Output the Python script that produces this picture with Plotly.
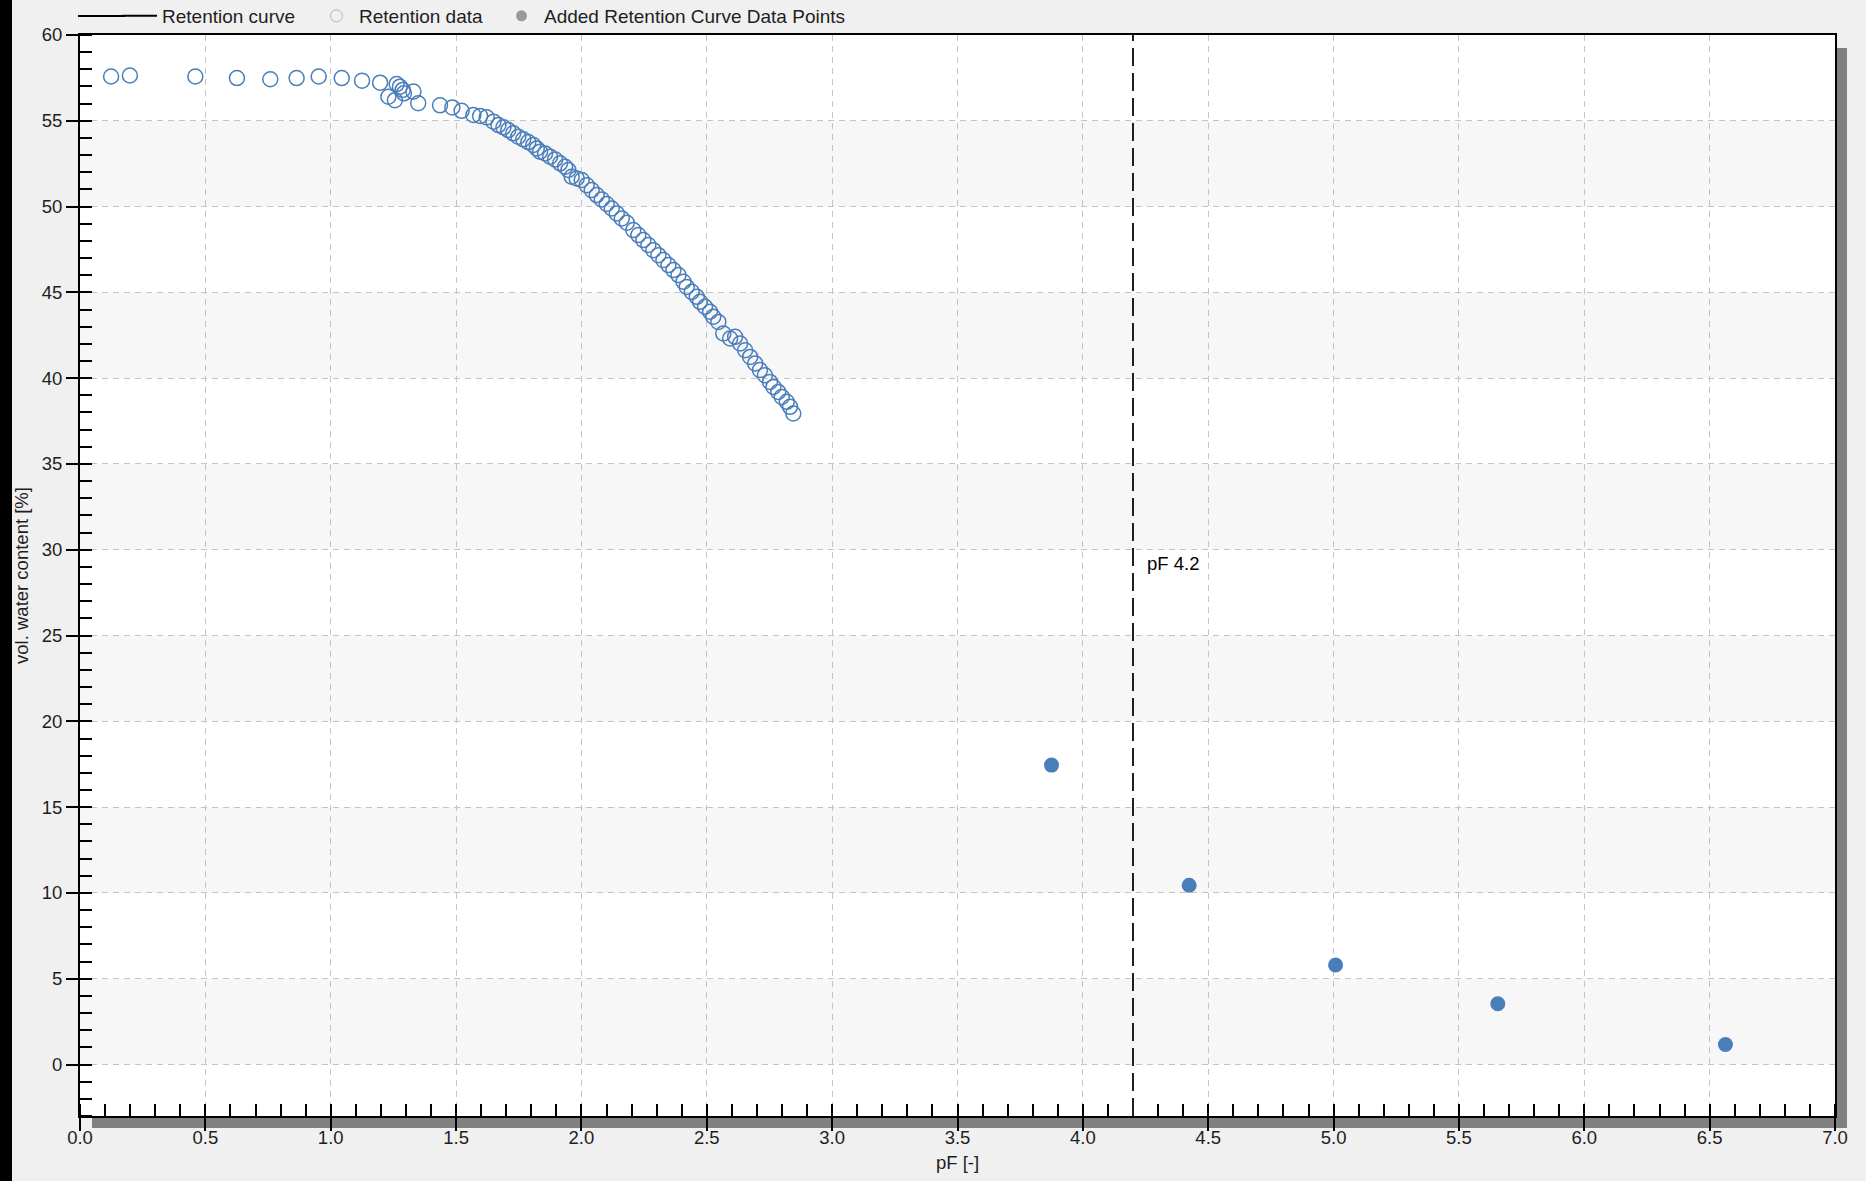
import plotly.graph_objects as go

# ---------------- data ----------------
# Measured retention data (open circles): pF [-] and vol. water content [%]
RET_PF = [0.124, 0.199, 0.460, 0.626, 0.759, 0.864, 0.952, 1.044, 1.125, 1.197,
          1.230, 1.256, 1.263, 1.276, 1.287, 1.292, 1.330, 1.349, 1.436, 1.485,
          1.522, 1.569, 1.596, 1.622, 1.649, 1.669, 1.689, 1.708, 1.728, 1.748,
          1.768, 1.788, 1.808, 1.822, 1.835, 1.855, 1.875, 1.895, 1.915, 1.935,
          1.948, 1.961, 1.981, 2.001, 2.021, 2.041, 2.061, 2.081, 2.101, 2.121,
          2.141, 2.161, 2.181, 2.207, 2.227, 2.247, 2.267, 2.287, 2.307, 2.327,
          2.347, 2.367, 2.387, 2.407, 2.420, 2.440, 2.460, 2.473, 2.493, 2.513,
          2.526, 2.546, 2.566, 2.593, 2.613, 2.633, 2.653, 2.673, 2.693, 2.712,
          2.732, 2.752, 2.766, 2.785, 2.799, 2.819, 2.832, 2.845]
RET_THETA = [57.58, 57.64, 57.58, 57.49, 57.42, 57.49, 57.58, 57.49, 57.34, 57.22,
             56.40, 56.20, 57.14, 56.99, 56.80, 56.60, 56.70, 56.02, 55.90, 55.78,
             55.58, 55.34, 55.28, 55.20, 54.95, 54.75, 54.62, 54.46, 54.27, 54.07,
             53.92, 53.76, 53.59, 53.39, 53.20, 53.10, 52.91, 52.75, 52.52, 52.32,
             52.13, 51.74, 51.64, 51.55, 51.25, 50.96, 50.67, 50.42, 50.15, 49.89,
             49.60, 49.31, 49.06, 48.63, 48.34, 48.05, 47.76, 47.46, 47.17, 46.88,
             46.59, 46.30, 46.01, 45.62, 45.32, 45.03, 44.74, 44.45, 44.16, 43.87,
             43.58, 43.28, 42.61, 42.31, 42.41, 42.02, 41.63, 41.24, 40.86, 40.47,
             40.17, 39.78, 39.49, 39.20, 38.91, 38.62, 38.33, 37.94]

# Added retention curve data points (filled circles)
ADDED_PF = [3.875, 4.424, 5.008, 5.655, 6.563]
ADDED_THETA = [17.45, 10.45, 5.80, 3.54, 1.17]

# Retention curve (no points shown in the chart)
CURVE_PF = [None]
CURVE_THETA = [None]

PF_MARK = 4.2
PF_MARK_LABEL = "pF 4.2"
PF_MARK_LABEL_Y = 29.2

X_RANGE = [0, 7]
Y_RANGE = [-3, 60]
X_TICK_STEP = 0.5
Y_TICK_STEP = 5
SHADED_BANDS = [(0, 5), (10, 15), (20, 25), (30, 35), (40, 45), (50, 55)]

SERIES_NAMES = ["Retention curve", "Retention data", "Added Retention Curve Data Points"]
X_TITLE = "pF [-]"
Y_TITLE = "vol. water content [%]"

# ---------------- style ----------------
BLUE = "#4a7ebb"
LEGEND_GRAY = "#999999"
FONT = "Liberation Sans, Arial, sans-serif"
TXT = "#1e1e1e"
FS = 18.5
W, H = 1866, 1181
ML, MR, MT, MB = 80, 31, 35, 65
PW, PH = W - ML - MR, H - MT - MB


def px_x(p):
    return (p - ML) / PW


def px_y(p):
    return (H - MB - p) / PH


fig = go.Figure()

# data traces (legend handled by dedicated legend entries)
fig.add_trace(go.Scatter(
    x=RET_PF, y=RET_THETA, mode="markers", showlegend=False, hoverinfo="x+y",
    marker=dict(symbol="circle-open", size=15, color=BLUE, line=dict(width=1.5, color=BLUE)),
))
fig.add_trace(go.Scatter(
    x=ADDED_PF, y=ADDED_THETA, mode="markers", showlegend=False, hoverinfo="x+y",
    marker=dict(symbol="circle", size=15, color=BLUE),
))

# legend entries
fig.add_trace(go.Scatter(
    x=CURVE_PF, y=CURVE_THETA, mode="lines", name=SERIES_NAMES[0], legendwidth=147,
    line=dict(color="black", width=2),
))
fig.add_trace(go.Scatter(
    x=[None], y=[None], mode="markers", name=SERIES_NAMES[1], legendwidth=135,
    marker=dict(symbol="circle-open", size=12, color="#b4b4b4", line=dict(width=1, color="#b4b4b4")),
))
fig.add_trace(go.Scatter(
    x=[None], y=[None], mode="markers", name=SERIES_NAMES[2],
    marker=dict(symbol="circle", size=11, color=LEGEND_GRAY),
))

shapes = []
# alternating light bands
for lo, hi in SHADED_BANDS:
    shapes.append(dict(type="rect", xref="paper", yref="y", x0=0, x1=1, y0=lo, y1=hi,
                       fillcolor="#f7f7f7", line=dict(width=0), layer="below"))
# drop shadow of the plot frame
shapes.append(dict(type="rect", xref="paper", yref="paper",
                   x0=px_x(ML + PW), x1=px_x(ML + PW + 12), y0=px_y(H - MB + 12), y1=px_y(MT + 13),
                   fillcolor="#808080", line=dict(width=0), layer="below"))
shapes.append(dict(type="rect", xref="paper", yref="paper",
                   x0=px_x(ML + 12), x1=px_x(ML + PW + 12), y0=px_y(H - MB + 12), y1=px_y(H - MB),
                   fillcolor="#808080", line=dict(width=0), layer="below"))
# dark window edge on the left
shapes.append(dict(type="rect", xref="paper", yref="paper",
                   x0=px_x(0), x1=px_x(12), y0=px_y(H), y1=px_y(0),
                   fillcolor="black", line=dict(width=0), layer="above"))
# longer line sample for the "Retention curve" legend entry
shapes.append(dict(type="line", xref="paper", yref="paper",
                   x0=px_x(78), x1=px_x(125), y0=px_y(16), y1=px_y(16),
                   line=dict(color="black", width=2), layer="above"))
# pF 4.2 marker line
shapes.append(dict(type="line", xref="x", yref="paper", x0=PF_MARK, x1=PF_MARK, y0=0, y1=1,
                   line=dict(color="#202020", width=2, dash="18px,7px"), layer="above"))

fig.update_layout(
    width=W, height=H, autosize=False,
    margin=dict(l=ML, r=MR, t=MT, b=MB, pad=0, autoexpand=False),
    paper_bgcolor="#f0f0f0", plot_bgcolor="white",
    font=dict(family=FONT, size=FS, color=TXT),
    shapes=shapes,
    showlegend=True,
    legend=dict(orientation="h", x=px_x(117), y=px_y(16), xanchor="left", yanchor="middle",
                bgcolor="rgba(0,0,0,0)", font=dict(family=FONT, size=19, color=TXT),
                traceorder="normal", itemwidth=35),
    annotations=[dict(x=PF_MARK, y=PF_MARK_LABEL_Y, xref="x", yref="y", text=PF_MARK_LABEL,
                      showarrow=False, xanchor="left", yanchor="middle", xshift=12,
                      font=dict(family=FONT, size=FS, color="black"))],
)

fig.update_xaxes(
    range=X_RANGE, tick0=0, dtick=X_TICK_STEP, tickformat=".1f",
    showline=True, linecolor="black", linewidth=2, mirror=True,
    ticks="outside", ticklen=13, tickwidth=1.5, tickcolor="black",
    ticklabelstandoff=-9,
    minor=dict(dtick=0.1, ticks="inside", ticklen=12, tickwidth=1.5, tickcolor="black", showgrid=False),
    showgrid=True, gridcolor="#c4c4c4", gridwidth=1, griddash="6px,5px",
    zeroline=False, tickfont=dict(family=FONT, size=FS, color=TXT),
    title=dict(text=X_TITLE, font=dict(family=FONT, size=FS, color=TXT), standoff=9),
)
fig.update_yaxes(
    range=Y_RANGE, tick0=0, dtick=Y_TICK_STEP,
    showline=True, linecolor="black", linewidth=2, mirror=True,
    ticks="outside", ticklen=12, tickwidth=1.5, tickcolor="black",
    minor=dict(dtick=1, ticks="inside", ticklen=12, tickwidth=1.5, tickcolor="black", showgrid=False),
    showgrid=True, gridcolor="#c4c4c4", gridwidth=1, griddash="6px,5px",
    zeroline=False, tickfont=dict(family=FONT, size=FS, color=TXT),
    title=dict(text=Y_TITLE, font=dict(family=FONT, size=FS, color=TXT), standoff=8),
)

POST_JS = (
    "document.body.style.margin='0';"
    "document.body.style.overflow='hidden';"
)

fig.write_html("out.html", config={"displayModeBar": False}, post_script=POST_JS)
